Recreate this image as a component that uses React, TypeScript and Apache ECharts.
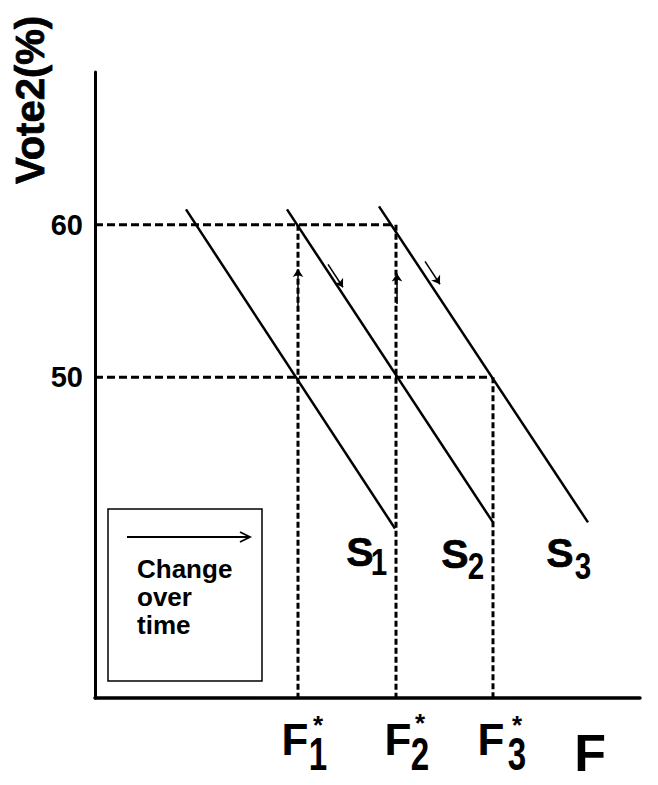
import React, { useEffect, useRef } from "react";
import * as echarts from "echarts";

// ---- data (arbitrary F units on x, Vote2 % on y) ----
const yTickValues = [50, 60];
const s1Line = [[9.1, 61.0], [30.0, 40.1]];
const s2Line = [[19.2, 61.0], [39.8, 40.5]];
const s3Line = [[28.4, 61.2], [49.3, 40.5]];
const fStar = [20.3, 30.1, 39.8];
const fStarTop = [60, 60, 50];
const refLevels = [60, 50];
const refEnds = [29.6, 39.7];
const upArrows = [
  [[20.3, 54.4], [20.3, 57.1]],
  [[30.2, 54.8], [30.2, 56.8]],
];
const shiftArrows = [
  [[23.3, 57.4], [24.8, 55.9]],
  [[33.0, 57.6], [34.5, 56.1]],
];
const fLabels = ["1", "2", "3"];
const sLabels = ["1", "2", "3"];
const legendLines = ["Change", "over", "time"];

const FONT = "'Liberation Sans', Arial, Helvetica, sans-serif";

export default function App() {
  const ref = useRef<HTMLDivElement>(null);
  useEffect(() => {
    if (!ref.current) return;
    const chart = echarts.init(ref.current, null, { renderer: "svg" });

    const sCurves = [s1Line, s2Line, s3Line];
    const series: any[] = sCurves.map((d, i) => ({
      type: "line",
      name: "S" + (i + 1),
      data: d,
      showSymbol: false,
      lineStyle: { color: "#000", width: 2.5 },
      z: 5,
    }));
    refLevels.forEach((v, i) => {
      series.push({
        type: "line",
        data: [[0, v], [refEnds[i], v]],
        showSymbol: false,
        lineStyle: { color: "#000", width: 3, type: [8, 4] },
        z: 3,
      });
    });
    fStar.forEach((f, i) => {
      series.push({
        type: "line",
        data: [[f, fStarTop[i]], [f, 29]],
        showSymbol: false,
        lineStyle: { color: "#000", width: 3, type: [6, 3] },
        z: 3,
      });
    });
    series.push({
      type: "lines",
      coordinateSystem: "cartesian2d",
      data: upArrows.concat(shiftArrows).map((c) => ({ coords: c })),
      lineStyle: { color: "#000", width: 1.5, opacity: 1 },
      symbol: ["none", "arrow"],
      symbolSize: 8,
      z: 6,
    });

    const graphic: any[] = [
      {
        type: "text",
        x: 30,
        y: 100,
        rotation: Math.PI / 2,
        style: {
          text: "Vote2(%)",
          font: `bold 40px ${FONT}`,
          fill: "#000",
          stroke: "#000",
          lineWidth: 0.8,
          align: "center",
          verticalAlign: "middle",
        },
      },
      // legend box
      {
        type: "rect",
        shape: { x: 108, y: 509, width: 154, height: 172 },
        style: { fill: "none", stroke: "#000", lineWidth: 1.5 },
      },
      {
        type: "line",
        shape: { x1: 127, y1: 537, x2: 250, y2: 537 },
        style: { stroke: "#000", lineWidth: 1.8 },
      },
      {
        type: "polyline",
        shape: { points: [[240, 532], [250, 537], [240, 542]] },
        style: { stroke: "#000", lineWidth: 1.8, fill: "none" },
      },
    ];
    const legendY = [569, 597, 625];
    legendLines.forEach((t, i) => {
      graphic.push({
        type: "text",
        x: 137,
        y: legendY[i],
        style: {
          text: t,
          font: `bold 26px ${FONT}`,
          lineHeight: 26,
          fill: "#000",
          align: "left",
          verticalAlign: "middle",
        },
      });
    });
    // F* labels
    const fX = [295, 398, 491];
    const fSubX = [318, 420, 517];
    const starY = [725, 723, 725];
    fLabels.forEach((s, i) => {
      graphic.push({
        type: "text",
        x: fX[i],
        y: 739,
        style: { text: "F", font: `bold 44px ${FONT}`, fill: "#000", align: "center", verticalAlign: "middle" },
      });
      graphic.push({
        type: "text",
        x: fSubX[i],
        y: 754,
        scaleX: 0.72,
        style: { text: s, font: `bold 46px ${FONT}`, fill: "#000", align: "center", verticalAlign: "middle" },
      });
      graphic.push({
        type: "text",
        x: fSubX[i],
        y: starY[i],
        style: { text: "*", font: `bold 26px ${FONT}`, fill: "#000", align: "center", verticalAlign: "middle" },
      });
    });
    graphic.push({
      type: "text",
      x: 590,
      y: 753,
      style: {
        text: "F",
        font: `bold 52px ${FONT}`,
        fill: "#000",
        align: "center",
        verticalAlign: "middle",
      },
    });
    // S labels
    const sX = [360, 455, 560];
    const sY = [552, 554, 553];
    const sSubX = [379, 476, 583];
    const sSubY = [562, 566, 566];
    sLabels.forEach((s, i) => {
      graphic.push({
        type: "text",
        x: sX[i],
        y: sY[i],
        style: {
          text: "S",
          font: `bold 41px ${FONT}`,
          fill: "#000",
          stroke: "#000",
          lineWidth: 0.6,
          align: "center",
          verticalAlign: "middle",
        },
      });
      graphic.push({
        type: "text",
        x: sSubX[i],
        y: sSubY[i],
        scaleX: 0.8,
        style: { text: s, font: `bold 37px ${FONT}`, fill: "#000", align: "center", verticalAlign: "middle" },
      });
    });

    chart.setOption({
      animation: false,
      backgroundColor: "#fff",
      grid: { left: 95, right: 18, top: 72, bottom: 87, containLabel: false },
      xAxis: {
        type: "value",
        min: 0,
        max: 54.5,
        axisLine: { show: true, lineStyle: { color: "#000", width: 3.5 } },
        axisTick: { show: false },
        axisLabel: { show: false },
        splitLine: { show: false },
      },
      yAxis: {
        type: "value",
        min: 29,
        max: 70,
        axisLine: { show: true, lineStyle: { color: "#000", width: 3 } },
        axisTick: { show: false },
        splitLine: { show: false },
        axisLabel: {
          customValues: yTickValues,
          color: "#000",
          fontSize: 29,
          fontWeight: "bold",
          fontFamily: FONT,
          margin: 12,
        },
      },
      series,
      graphic,
    });
    return () => chart.dispose();
  }, []);
  return (
    <div
      ref={ref}
      style={{ position: "absolute", left: 0, top: 0, width: 658, height: 785 }}
    />
  );
}
